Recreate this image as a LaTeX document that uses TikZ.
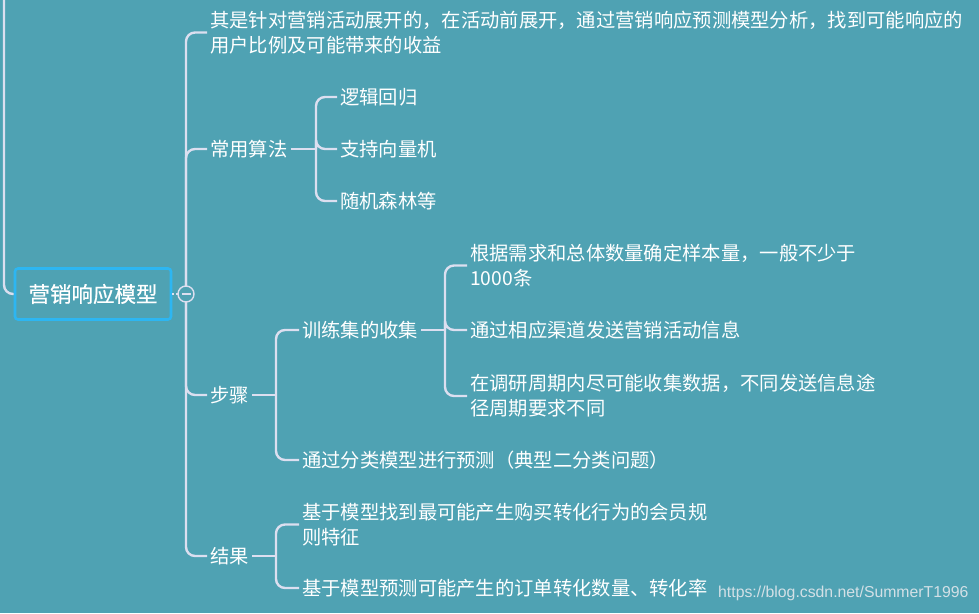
\documentclass[tikz,border=0pt]{standalone}
\usepackage{fontspec}
\setmainfont{Noto Sans CJK SC}
\newfontfamily\rootfont[FakeBold=0.6]{Noto Sans CJK SC}
\newfontfamily\wmfont{Liberation Sans}
\definecolor{bg}{HTML}{4FA2B3}
\definecolor{ln}{HTML}{DCDFF0}
\definecolor{rootb}{HTML}{2DB6F2}
\definecolor{wm}{HTML}{D3E0E6}
\begin{document}
\begin{tikzpicture}[x=1pt,y=-1pt,
  txt/.style={anchor=west, inner sep=3pt, text=white, font=\fontsize{19.3}{25}\selectfont, align=left},
  conn/.style={draw=ln, line width=2.4pt, rounded corners=9pt},
  rootbox/.style={draw=rootb, line width=2.6pt, rounded corners=3pt, minimum width=156pt, minimum height=51pt, text=white, font=\rootfont\fontsize{21.5}{26}\selectfont, inner sep=0pt},
  fold/.style={circle, draw=ln, line width=1.4pt, fill=bg, minimum size=16pt, inner sep=0pt},
  wmark/.style={anchor=west, inner sep=0pt, text=wm, font=\wmfont\fontsize{15.8}{18}\selectfont}
]
\fill[bg] (0,0) rectangle (979,613);
\useasboundingbox (0,0) rectangle (979,613);

% root
\node[rootbox] (root) at (93,294) {营销响应模型};
\coordinate (top) at (4,-10);

% level 1
\node[txt] (t1) at (207,32.5) {其是针对营销活动展开的，在活动前展开，通过营销响应预测模型分析，找到可能响应的\\用户比例及可能带来的收益};
\node[txt] (alg) at (207,149) {常用算法};
\node[txt] (steps) at (207,395) {步骤};
\node[txt] (res) at (207,556) {结果};

% algorithms
\node[txt] (a1) at (337,97) {逻辑回归};
\node[txt] (a2) at (337,149) {支持向量机};
\node[txt] (a3) at (337,201) {随机森林等};

% steps
\node[txt] (s1) at (299,330) {训练集的收集};
\node[txt] (s2) at (299,460) {通过分类模型进行预测（典型二分类问题）};
\node[txt] (s11) at (467,265.5) {根据需求和总体数量确定样本量，一般不少于\\1000条};
\node[txt] (s12) at (467,330) {通过相应渠道发送营销活动信息};
\node[txt] (s13) at (467,396) {在调研周期内尽可能收集数据，不同发送信息途\\径周期要求不同};

% results
\node[txt] (r1) at (299,524.5) {基于模型找到最可能产生购买转化行为的会员规\\则特征};
\node[txt] (r2) at (299,588) {基于模型预测可能产生的订单转化数量、转化率};

% connectors
\draw[conn] (top) |- (root.west);
\coordinate (jr) at (186,294);
\foreach \c in {t1,alg,steps,res} \draw[conn] (jr) |- (\c.west);
\draw[draw=ln, line width=2pt, dash pattern=on 2pt off 2pt] (root.east) -- (jr);
\node[fold] (fd) at (jr) {};
\draw[ln, line width=1.4pt] ([xshift=-4.5pt]fd.center) -- ([xshift=4.5pt]fd.center);

\coordinate (ja) at (316,149);
\draw[conn] (alg.east) -- (ja);
\foreach \c in {a1,a2,a3} \draw[conn] (ja) |- (\c.west);

\coordinate (js) at (276,395);
\draw[conn] (steps.east) -- (js);
\foreach \c in {s1,s2} \draw[conn] (js) |- (\c.west);

\coordinate (js1) at (445,330);
\draw[conn] (s1.east) -- (js1);
\foreach \c in {s11,s12,s13} \draw[conn] (js1) |- (\c.west);

\coordinate (jres) at (276,556);
\draw[conn] (res.east) -- (jres);
\foreach \c in {r1,r2} \draw[conn] (jres) |- (\c.west);

% watermark
\node[wmark] (wm) at (718,593) {https://blog.csdn.net/SummerT1996};
\end{tikzpicture}
\end{document}
